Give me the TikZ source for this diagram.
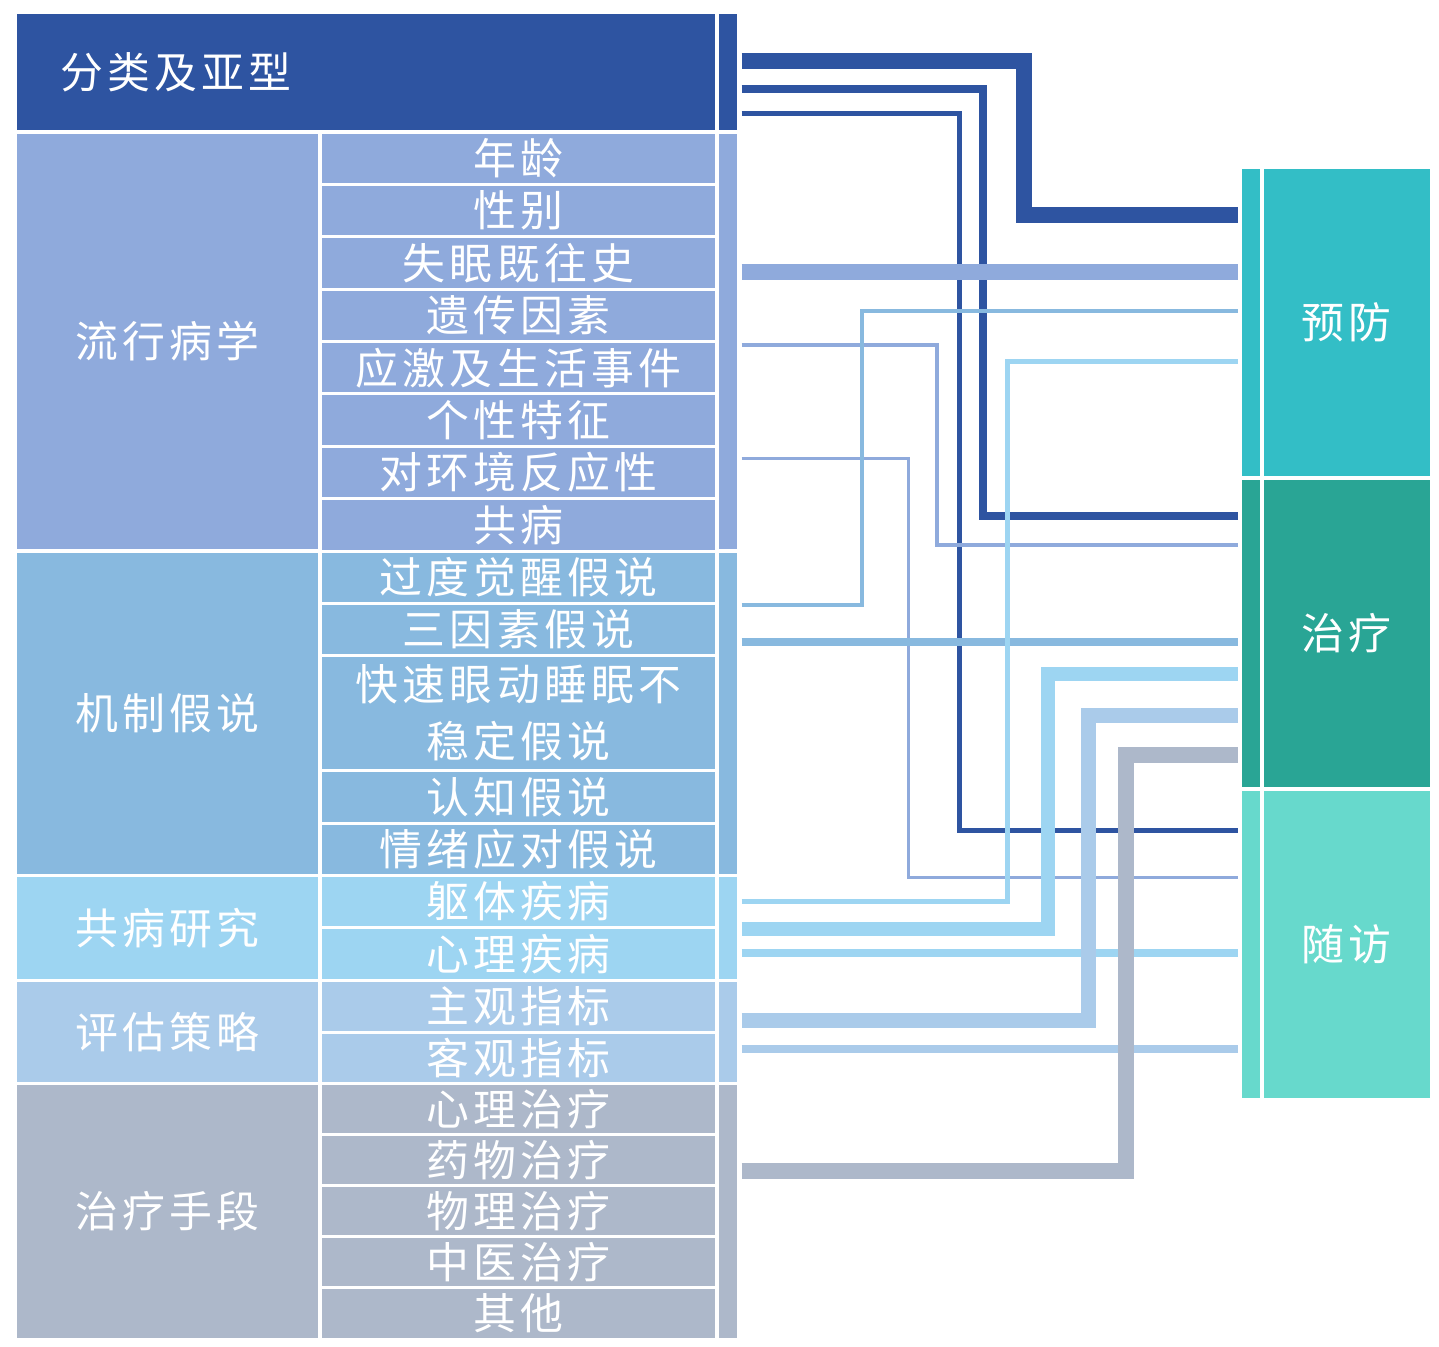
\documentclass[tikz,border=0pt]{standalone}
\usepackage{fontspec}
\newfontfamily\cjk[LetterSpace=10]{Noto Sans CJK SC}
\definecolor{darkB}{HTML}{2E54A1}
\definecolor{epiB}{HTML}{8FAADC}
\definecolor{mechB}{HTML}{88B9DF}
\definecolor{comB}{HTML}{9DD5F2}
\definecolor{evalB}{HTML}{AACBEA}
\definecolor{treatG}{HTML}{ADB8CA}
\definecolor{prevT}{HTML}{33BEC6}
\definecolor{cureT}{HTML}{29A595}
\definecolor{folT}{HTML}{67D9CC}
\tikzset{
  cell/.style={draw=white, line width=0.06cm, inner sep=0pt, text=white, align=center,
    font=\cjk\fontsize{24.4}{32.4}\selectfont},
  cat/.style={cell, minimum width=6.1cm},
  item/.style={cell, minimum width=7.94cm},
  strip/.style={cell, minimum width=0.42cm},
  rstrip/.style={cell, minimum width=0.41cm},
  aim/.style={cell, minimum width=3.39cm},
  link/.style={shorten <=0.04cm, shorten >=0.03cm}
}

\begin{document}
\begin{tikzpicture}[x=0.02cm, y=-0.02cm]
    \useasboundingbox (0,0) rectangle (1439,1346);
    % top row
    \node[cell, fill=darkB, minimum width=14.04cm, minimum height=2.4cm, text width=12.24cm, align=left, inner xsep=0.9cm] (cls) at (366,72) {分类及亚型};
    \node[strip, fill=darkB, minimum height=2.4cm] (sTop) at (727.5,72) {};
    % epidemiology
    \node[cat, fill=epiB, minimum height=8.38cm] (epi) at (167.5,341.5) {流行病学};
    \node[strip, fill=epiB, minimum height=8.38cm] (sEpi) at (727.5,341.5) {};
    \node[item, fill=epiB, minimum height=1.048cm] (age) at (518.5,158.2) {年龄};
    \node[item, fill=epiB, minimum height=1.048cm] (sex) at (518.5,210.6) {性别};
    \node[item, fill=epiB, minimum height=1.048cm] (hist) at (518.5,262.9) {失眠既往史};
    \node[item, fill=epiB, minimum height=1.048cm] (gene) at (518.5,315.3) {遗传因素};
    \node[item, fill=epiB, minimum height=1.048cm] (stress) at (518.5,367.7) {应激及生活事件};
    \node[item, fill=epiB, minimum height=1.048cm] (pers) at (518.5,420.1) {个性特征};
    \node[item, fill=epiB, minimum height=1.048cm] (react) at (518.5,472.4) {对环境反应性};
    \node[item, fill=epiB, minimum height=1.048cm] (comorb) at (518.5,524.8) {共病};
    % mechanisms
    \node[cat, fill=mechB, minimum height=6.49cm] (mech) at (167.5,713.25) {机制假说};
    \node[strip, fill=mechB, minimum height=6.49cm] (sMech) at (727.5,713.25) {};
    \node[item, fill=mechB, minimum height=1.05cm] (hyper) at (518.5,577.25) {过度觉醒假说};
    \node[item, fill=mechB, minimum height=1.04cm] (three) at (518.5,629.5) {三因素假说};
    \node[item, fill=mechB, minimum height=2.3cm] (rem) at (518.5,713) {快速眼动睡眠不\\稳定假说};
    \node[item, fill=mechB, minimum height=1.05cm] (cogn) at (518.5,796.75) {认知假说};
    \node[item, fill=mechB, minimum height=1.05cm] (emo) at (518.5,849.25) {情绪应对假说};
    % comorbidity
    \node[cat, fill=comB, minimum height=2.09cm] (com) at (167.5,927.75) {共病研究};
    \node[strip, fill=comB, minimum height=2.09cm] (sCom) at (727.5,927.75) {};
    \node[item, fill=comB, minimum height=1.04cm] (soma) at (518.5,901.5) {躯体疾病};
    \node[item, fill=comB, minimum height=1.05cm] (psy) at (518.5,953.75) {心理疾病};
    % assessment
    \node[cat, fill=evalB, minimum height=2.07cm] (eval) at (167.5,1031.75) {评估策略};
    \node[strip, fill=evalB, minimum height=2.07cm] (sEval) at (727.5,1031.75) {};
    \node[item, fill=evalB, minimum height=1.04cm] (subj) at (518.5,1006) {主观指标};
    \node[item, fill=evalB, minimum height=1.03cm] (obj) at (518.5,1057.75) {客观指标};
    % therapy
    \node[cat, fill=treatG, minimum height=5.11cm] (ther) at (167.5,1211.25) {治疗手段};
    \node[strip, fill=treatG, minimum height=5.11cm] (sTreat) at (727.5,1211.25) {};
    \node[item, fill=treatG, minimum height=1.022cm] (psyT) at (518.5,1109.05) {心理治疗};
    \node[item, fill=treatG, minimum height=1.022cm] (drug) at (518.5,1160.15) {药物治疗};
    \node[item, fill=treatG, minimum height=1.022cm] (phys) at (518.5,1211.25) {物理治疗};
    \node[item, fill=treatG, minimum height=1.022cm] (tcm) at (518.5,1262.35) {中医治疗};
    \node[item, fill=treatG, minimum height=1.022cm] (other) at (518.5,1313.45) {其他};
    % right column
    \node[rstrip, fill=prevT, minimum height=6.21cm] (rPrev) at (1250.75,322.75) {};
    \node[aim, fill=prevT, minimum height=6.21cm] (prev) at (1346.75,322.75) {预防};
    \node[rstrip, fill=cureT, minimum height=6.22cm] (rCure) at (1250.75,633.5) {};
    \node[aim, fill=cureT, minimum height=6.22cm] (cure) at (1346.75,633.5) {治疗};
    \node[rstrip, fill=folT, minimum height=6.21cm] (rFol) at (1250.75,944.25) {};
    \node[aim, fill=folT, minimum height=6.21cm] (fol) at (1346.75,944.25) {随访};
    % links
    \draw[link, darkB, line width=0.32cm] (sTop.east |- 0,61) -| (1024,215) -- (rPrev.west |- 0,215);
    \draw[link, darkB, line width=0.16cm] (sTop.east |- 0,89) -| (983,516) -- (rCure.west |- 0,516);
    \draw[link, darkB, line width=0.1cm] (sTop.east |- 0,113) -| (959,830) -- (rFol.west |- 0,830);
    \draw[link, epiB, line width=0.32cm] (sEpi.east |- 0,272) -- (rPrev.west |- 0,272);
    \draw[link, epiB, line width=0.08cm] (sEpi.east |- 0,345) -| (937,545) -- (rCure.west |- 0,545);
    \draw[link, epiB, line width=0.06cm] (sEpi.east |- 0,458) -| (908,877) -- (rFol.west |- 0,877);
    \draw[link, mechB, line width=0.08cm] (sMech.east |- 0,605) -| (862,311) -- (rPrev.west |- 0,311);
    \draw[link, mechB, line width=0.16cm] (sMech.east |- 0,642) -- (rCure.west |- 0,642);
    \draw[link, comB, line width=0.1cm] (sCom.east |- 0,901) -| (1007,361) -- (rPrev.west |- 0,361);
    \draw[link, comB, line width=0.28cm] (sCom.east |- 0,929) -| (1048,674) -- (rCure.west |- 0,674);
    \draw[link, comB, line width=0.16cm] (sCom.east |- 0,953) -- (rFol.west |- 0,953);
    \draw[link, evalB, line width=0.3cm] (sEval.east |- 0,1020) -| (1088,715) -- (rCure.west |- 0,715);
    \draw[link, evalB, line width=0.16cm] (sEval.east |- 0,1049) -- (rFol.west |- 0,1049);
    \draw[link, treatG, line width=0.32cm] (sTreat.east |- 0,1171) -| (1126,755) -- (rCure.west |- 0,755);
\end{tikzpicture}
\end{document}
